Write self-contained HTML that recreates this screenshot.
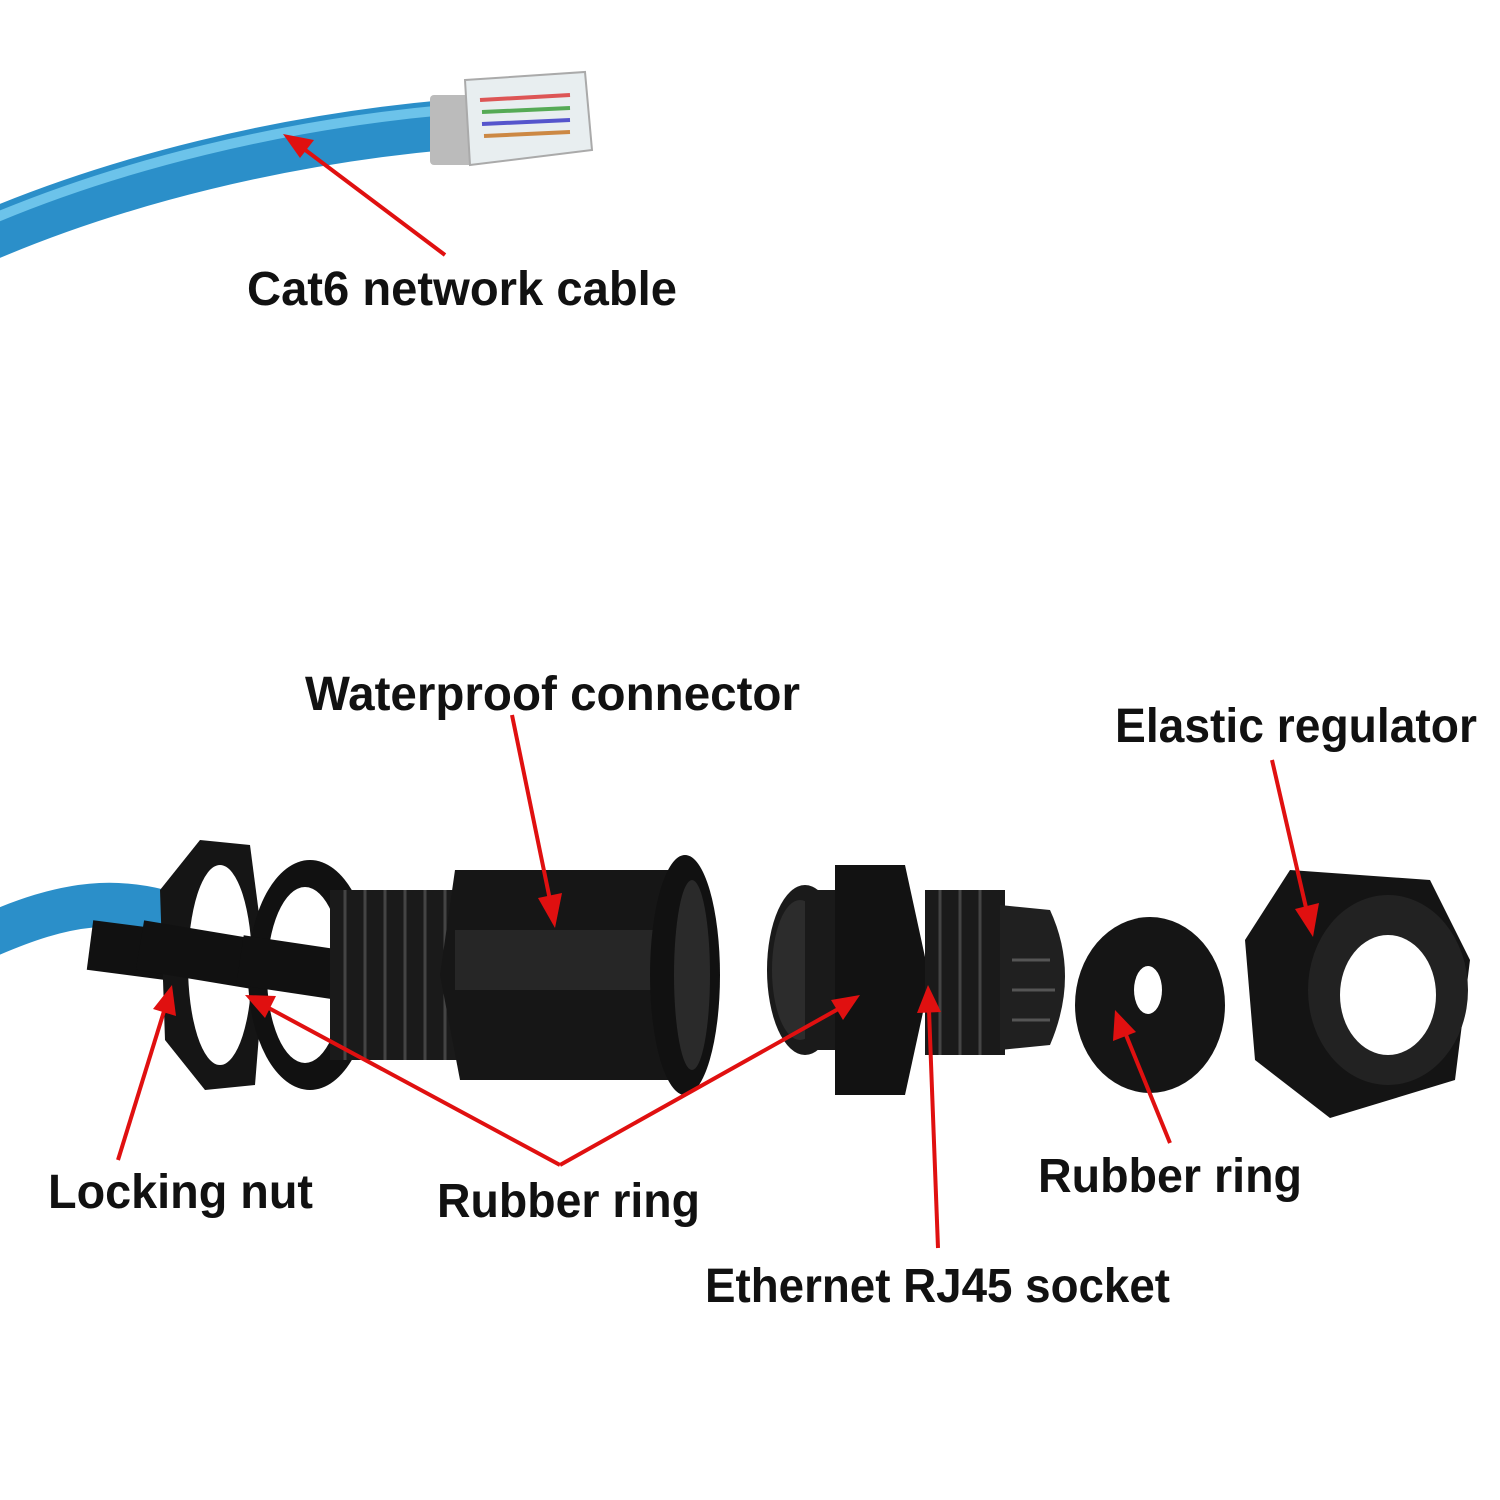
<!DOCTYPE html>
<html><head><meta charset="utf-8"><style>
html,body{margin:0;padding:0;background:#fff;}
svg{display:block;}
text{font-family:"Liberation Sans Narrow","Liberation Sans",sans-serif;font-weight:bold;font-size:48px;fill:#111;}
</style></head><body>
<svg width="1500" height="1500" viewBox="0 0 1500 1500" xmlns="http://www.w3.org/2000/svg">
<!-- top cable -->
<path d="M-10,235 C120,180 280,140 445,125" stroke="#2b8fc9" stroke-width="50" fill="none"/>
<path d="M-10,220 C120,165 280,125 445,110" stroke="#6cc3ea" stroke-width="10" fill="none"/>
<!-- rj45 plug -->
<rect x="430" y="95" width="45" height="70" fill="#bbb" rx="4"/>
<polygon points="465,80 585,72 592,150 470,165" fill="#e8eef0" stroke="#aaa" stroke-width="2"/>
<line x1="480" y1="100" x2="570" y2="95" stroke="#d55" stroke-width="4"/>
<line x1="482" y1="112" x2="570" y2="108" stroke="#5a5" stroke-width="4"/>
<line x1="482" y1="124" x2="570" y2="120" stroke="#55c" stroke-width="4"/>
<line x1="484" y1="136" x2="570" y2="132" stroke="#c84" stroke-width="4"/>
<line x1="445" y1="255" x2="300" y2="146" stroke="#e01010" stroke-width="4"/>
<polygon points="283,134 314,140 300,158" fill="#e01010"/>
<text x="247" y="305" textLength="430" lengthAdjust="spacingAndGlyphs">Cat6 network cable</text>

<!-- bottom cable -->
<path d="M-10,935 C60,905 120,890 200,925" stroke="#2b8fc9" stroke-width="44" fill="none"/>
<path d="M90,945 L320,975" stroke="#111" stroke-width="50" fill="none"/>
<polygon points="200,840 250,845 265,960 255,1085 205,1090 165,1040 160,890" fill="#151515"/>
<ellipse cx="220" cy="965" rx="32" ry="100" fill="#fff"/>
<path d="M140,945 L320,975" stroke="#111" stroke-width="50"/>
<ellipse cx="310" cy="975" rx="62" ry="115" fill="#111"/>
<ellipse cx="305" cy="975" rx="38" ry="88" fill="#fff"/>
<path d="M240,960 L340,975" stroke="#111" stroke-width="50"/>
<rect x="330" y="890" width="130" height="170" fill="#1a1a1a"/>
<g stroke="#444" stroke-width="3">
<line x1="345" y1="890" x2="345" y2="1060"/><line x1="365" y1="890" x2="365" y2="1060"/><line x1="385" y1="890" x2="385" y2="1060"/><line x1="405" y1="890" x2="405" y2="1060"/><line x1="425" y1="890" x2="425" y2="1060"/><line x1="445" y1="890" x2="445" y2="1060"/>
</g>
<polygon points="455,870 680,870 690,1080 460,1080 440,975" fill="#161616"/>
<rect x="455" y="930" width="230" height="60" fill="#262626"/>
<ellipse cx="685" cy="975" rx="35" ry="120" fill="#111"/>
<ellipse cx="692" cy="975" rx="18" ry="95" fill="#2a2a2a"/>
<ellipse cx="805" cy="970" rx="38" ry="85" fill="#1a1a1a"/>
<ellipse cx="800" cy="970" rx="28" ry="70" fill="#2c2c2c"/>
<rect x="805" y="890" width="30" height="160" fill="#1a1a1a"/>
<polygon points="835,865 905,865 930,980 905,1095 835,1095" fill="#121212"/>
<rect x="925" y="890" width="80" height="165" fill="#1a1a1a"/>
<g stroke="#444" stroke-width="3">
<line x1="940" y1="890" x2="940" y2="1055"/><line x1="960" y1="890" x2="960" y2="1055"/><line x1="980" y1="890" x2="980" y2="1055"/>
</g>
<path d="M1000,905 L1050,910 Q1080,975 1050,1045 L1000,1050 Z" fill="#202020"/>
<g stroke="#555" stroke-width="3">
<line x1="1012" y1="960" x2="1050" y2="960"/><line x1="1012" y1="990" x2="1055" y2="990"/><line x1="1012" y1="1020" x2="1050" y2="1020"/>
</g>
<ellipse cx="1150" cy="1005" rx="75" ry="88" fill="#151515"/>
<ellipse cx="1148" cy="990" rx="14" ry="24" fill="#fff"/>
<polygon points="1290,870 1430,880 1470,960 1455,1080 1330,1118 1255,1060 1245,940" fill="#141414"/>
<ellipse cx="1388" cy="990" rx="80" ry="95" fill="#222"/>
<ellipse cx="1388" cy="995" rx="48" ry="60" fill="#fff"/>

<g stroke="#e01010" stroke-width="4" fill="none">
<line x1="512" y1="715" x2="550" y2="900"/>
<line x1="1272" y1="760" x2="1307" y2="912"/>
<line x1="118" y1="1160" x2="165" y2="1008"/>
<line x1="560" y1="1165" x2="265" y2="1006"/>
<line x1="560" y1="1165" x2="840" y2="1008"/>
<line x1="938" y1="1248" x2="929" y2="1010"/>
<line x1="1170" y1="1143" x2="1124" y2="1030"/>
</g>
<g fill="#e01010">
<polygon points="555,928 538,898 562,893"/>
<polygon points="1313,937 1295,909 1319,903"/>
<polygon points="172,985 176,1016 153,1009"/>
<polygon points="245,995 276,996 265,1018"/>
<polygon points="860,995 843,1020 831,1000"/>
<polygon points="928,985 941,1012 917,1013"/>
<polygon points="1115,1010 1136,1032 1113,1041"/>
</g>

<text x="305" y="710" textLength="495" lengthAdjust="spacingAndGlyphs">Waterproof connector</text>
<text x="1115" y="742" textLength="362" lengthAdjust="spacingAndGlyphs">Elastic regulator</text>
<text x="48" y="1208" textLength="265" lengthAdjust="spacingAndGlyphs">Locking nut</text>
<text x="437" y="1217" textLength="263" lengthAdjust="spacingAndGlyphs">Rubber ring</text>
<text x="1038" y="1192" textLength="264" lengthAdjust="spacingAndGlyphs">Rubber ring</text>
<text x="705" y="1302" textLength="465" lengthAdjust="spacingAndGlyphs">Ethernet RJ45 socket</text>
</svg>
</body></html>
